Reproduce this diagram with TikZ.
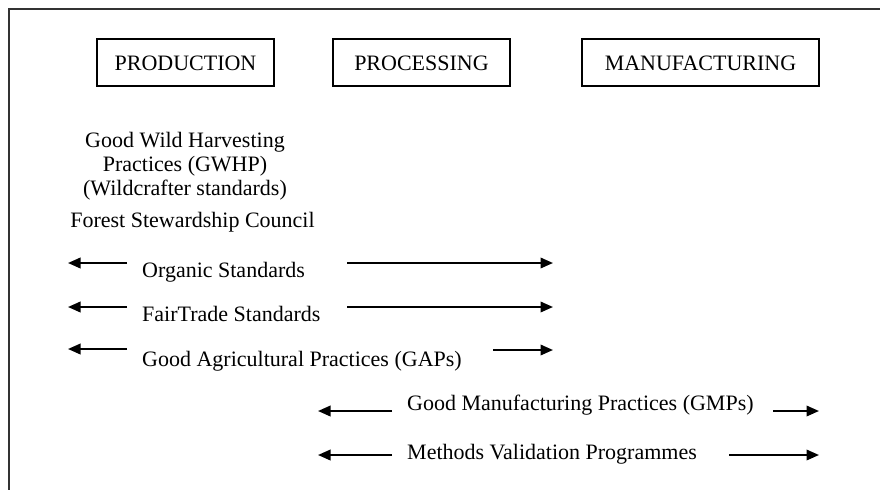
\documentclass[tikz,border=0pt]{standalone}
\usepackage{fontspec}
\setmainfont{Liberation Serif}
\usetikzlibrary{arrows.meta}
\begin{document}
\begin{tikzpicture}[x=1pt,y=-1pt,
  stagebox/.style={draw,line width=2.2pt,inner sep=0pt,minimum height=47pt,text height=15pt,text depth=0pt},
  lbl/.style={inner sep=0pt,font=\fontsize{22}{24}\selectfont},
  arr/.style={line width=2pt,-{Triangle[length=12.5pt,width=10.5pt]}},
  frame/.style={line width=1.5pt,draw=black!80}]
\useasboundingbox (0,0) rectangle (880,490);
% frame
\coordinate (fc) at (9,9);
\coordinate (fr) at (880,9);
\coordinate (fb) at (9,490);
\draw[frame] (fr) -- (fc) -- (fb);
% stage boxes
\node[stagebox,lbl,minimum width=177pt] (prod) at (185.5,62.5) {PRODUCTION};
\node[stagebox,lbl,minimum width=177pt] (proc) at (421.5,62.5) {PROCESSING};
\node[stagebox,lbl,minimum width=237pt] (manu) at (700.5,62.5) {MANUFACTURING};
% production-only standards
\node[lbl,anchor=base] (gw1) at (185,147) {Good Wild Harvesting};
\node[lbl,anchor=base] (gw2) at (185,171) {Practices (GWHP)};
\node[lbl,anchor=base] (gw3) at (185,195) {(Wildcrafter standards)};
\node[lbl,anchor=base] (fsc) at (192.5,227) {Forest Stewardship Council};
% row labels
\node[lbl,anchor=base west] (org) at (142,277) {Organic Standards};
\node[lbl,anchor=base west] (fair) at (142,321) {FairTrade Standards};
\node[lbl,anchor=base west] (gap) at (142,366) {Good Agricultural Practices (GAPs)};
\node[lbl,anchor=base west] (gmp) at (407,410) {Good Manufacturing Practices (GMPs)};
\node[lbl,anchor=base west] (mvp) at (407,459) {Methods Validation Programmes};
% arrow end points
\coordinate (o1) at (127,263); \coordinate (o2) at (68,263);
\coordinate (o3) at (347,263); \coordinate (o4) at (553,263);
\coordinate (f1) at (127,307); \coordinate (f2) at (68,307);
\coordinate (f3) at (347,307); \coordinate (f4) at (553,307);
\coordinate (g1) at (127,349); \coordinate (g2) at (68,349);
\coordinate (g3) at (493,350); \coordinate (g4) at (553,350);
\coordinate (m1) at (392,411); \coordinate (m2) at (318,411);
\coordinate (m3) at (773,411); \coordinate (m4) at (819,411);
\coordinate (v1) at (392,455); \coordinate (v2) at (318,455);
\coordinate (v3) at (729,455); \coordinate (v4) at (819,455);
\draw[arr] (o1) -- (o2);
\draw[arr] (o3) -- (o4);
\draw[arr] (f1) -- (f2);
\draw[arr] (f3) -- (f4);
\draw[arr] (g1) -- (g2);
\draw[arr] (g3) -- (g4);
\draw[arr] (m1) -- (m2);
\draw[arr] (m3) -- (m4);
\draw[arr] (v1) -- (v2);
\draw[arr] (v3) -- (v4);
\end{tikzpicture}
\end{document}
